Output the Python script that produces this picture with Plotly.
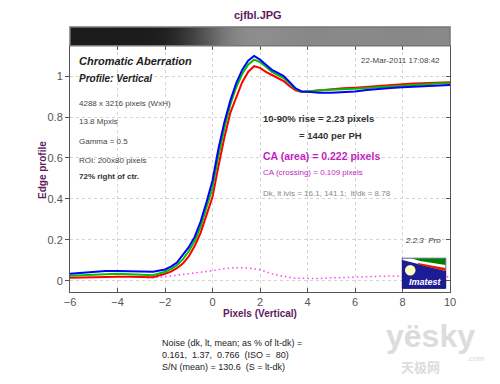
import plotly.graph_objects as go

# ---------------- data ----------------
x_px = [-6, -5.5, -5, -4.5, -4, -3.5, -3, -2.5, -2, -1.75, -1.5, -1.25, -1.0, -0.75, -0.5, -0.25,
        0, 0.25, 0.5, 0.75, 1.0, 1.25, 1.5, 1.75, 2.0, 2.25, 2.5, 2.75, 3.0, 3.25, 3.5, 3.75,
        4.0, 4.5, 5, 5.5, 6, 6.5, 7, 7.5, 8, 8.5, 9, 9.5, 10]
blue = [0.035, 0.040, 0.045, 0.048, 0.049, 0.047, 0.046, 0.045, 0.056, 0.070, 0.090, 0.125, 0.165, 0.215, 0.290, 0.385,
        0.490, 0.645, 0.775, 0.880, 0.965, 1.030, 1.075, 1.098, 1.080, 1.055, 1.030, 1.015, 1.000, 0.970, 0.940, 0.925,
        0.922, 0.918, 0.918, 0.920, 0.925, 0.932, 0.938, 0.942, 0.945, 0.948, 0.950, 0.953, 0.956]
green = [0.025, 0.028, 0.032, 0.034, 0.035, 0.033, 0.030, 0.028, 0.045, 0.058, 0.077, 0.105, 0.145, 0.195, 0.265, 0.355,
         0.455, 0.610, 0.745, 0.860, 0.945, 1.010, 1.055, 1.080, 1.068, 1.045, 1.020, 1.005, 0.990, 0.963, 0.935, 0.925,
         0.925, 0.930, 0.932, 0.935, 0.938, 0.942, 0.946, 0.950, 0.953, 0.956, 0.960, 0.963, 0.965]
red = [0.015, 0.017, 0.018, 0.020, 0.020, 0.020, 0.020, 0.018, 0.035, 0.045, 0.062, 0.085, 0.120, 0.170, 0.235, 0.320,
       0.410, 0.560, 0.700, 0.820, 0.900, 0.970, 1.020, 1.048, 1.040, 1.020, 1.005, 0.990, 0.975, 0.950, 0.930, 0.922,
       0.925, 0.930, 0.935, 0.940, 0.943, 0.948, 0.953, 0.957, 0.960, 0.963, 0.966, 0.968, 0.970]

ca_x = [-2.75, -2.5, -2, -1.5, -1, -0.5, 0, 0.5, 1.0, 1.5, 2.0, 2.5, 3.0, 3.5, 4.0, 4.5, 5, 5.5, 6, 6.5,
        7, 7.5, 8, 8.5, 9, 9.5, 10]
ca_diff = [0.015, 0.016, 0.020, 0.028, 0.035, 0.042, 0.050, 0.060, 0.065, 0.063, 0.055, 0.035, 0.022, 0.013,
           0.011, 0.012, 0.015, 0.017, 0.018, 0.022, 0.025, 0.024, 0.022, 0.022, 0.022, 0.020, 0.020]

bar_x = [-6, -5, -4, -3, -2.5, -2, -1.5, -1, -0.5, 0, 0.5, 1, 1.5, 2, 3, 4, 6, 8, 10]
bar_level = [27, 28, 27, 27, 29, 33, 45, 60, 80, 100, 120, 133, 140, 142, 138, 136, 137, 136, 137]

x_ticks = [-6, -4, -2, 0, 2, 4, 6, 8, 10]
y_ticks = [0, 0.2, 0.4, 0.6, 0.8, 1]
y_ticklabels = ["0", "0.2", "0.4", "0.6", "0.8", "1"]

# ---------------- layout helpers ----------------
OFF = 8  # page body margin
W, H = 500 - OFF, 384 - OFF
PL, PR, PT, PB = 70, 450, 27, 292  # plot box in reference pixels
ML, MT = PL - OFF, PT - OFF
MR = W - (PR - OFF)
MB = H - (PB - OFF)
PW, PH = PR - PL, PB - PT


def px(x, y):
    return (x - PL) / PW, (PB - y) / PH


bar_bottom = (PB - 45.7) / PH
FONT = "Liberation Sans, Arial, sans-serif"
PURPLE = "#5e1a5e"
MAG = "#c21fc2"

fig = go.Figure()

# gradient bar (edge image)
fig.add_trace(go.Heatmap(
    x=bar_x, y=[0, 1], z=[bar_level, bar_level], xaxis="x", yaxis="y2",
    colorscale=[[0, "rgb(0,0,0)"], [1, "rgb(255,255,255)"]], zmin=0, zmax=255,
    zsmooth="best", showscale=False, hoverinfo="skip"))

fig.add_trace(go.Scatter(x=ca_x, y=ca_diff, mode="lines",
                         line=dict(color="#ff40ff", width=1.5, dash="1.5px,3px"), showlegend=False))
fig.add_trace(go.Scatter(x=x_px, y=red, mode="lines", line=dict(color="#ff0000", width=2), showlegend=False))
fig.add_trace(go.Scatter(x=x_px, y=green, mode="lines", line=dict(color="#00c000", width=2), showlegend=False))
fig.add_trace(go.Scatter(x=x_px, y=blue, mode="lines", line=dict(color="#0000ff", width=2), showlegend=False))

axis_font = dict(family=FONT, size=11, color="#555555")
fig.update_layout(
    width=W, height=H, margin=dict(l=ML, r=MR, t=MT, b=MB),
    paper_bgcolor="white", plot_bgcolor="white", showlegend=False,
    xaxis=dict(range=[-6, 10], tickvals=x_ticks, ticks="inside", ticklen=4, tickcolor="#555",
               showline=True, linecolor="#555", linewidth=1, mirror="ticks",
               showgrid=True, gridcolor="#d4d4d4", griddash="dot", zeroline=False,
               tickfont=axis_font, anchor="y"),
    yaxis=dict(domain=[0, bar_bottom], range=[-0.054, 1.148], tickvals=y_ticks, ticktext=y_ticklabels,
               ticks="outside", ticklen=4, tickcolor="#555", showline=True, linecolor="#555", linewidth=1,
               showgrid=True, gridcolor="#d4d4d4", griddash="dot", zeroline=False, tickfont=axis_font),
    yaxis3=dict(overlaying="y", side="right", range=[-0.054, 1.148], tickvals=y_ticks, showticklabels=False,
                ticks="inside", ticklen=4, tickcolor="#555", showline=True, linecolor="#555",
                showgrid=False, zeroline=False, anchor="x"),
    yaxis2=dict(domain=[bar_bottom, 1], range=[0, 1], showticklabels=False, showgrid=False,
                zeroline=False, ticks="", fixedrange=True),
)
fig.add_trace(go.Scatter(x=[None], y=[None], yaxis="y3", showlegend=False))

fig.add_shape(type="rect", xref="paper", yref="paper", x0=0, x1=1, y0=bar_bottom, y1=1,
              line=dict(color="#777", width=1.5))

anns = []


def text(t, x, y, size=8, color="#444", bold=False, italic=False, xanchor="left", angle=0, family=FONT):
    s = t
    if bold:
        s = "<b>" + s + "</b>"
    if italic:
        s = "<i>" + s + "</i>"
    ax, ay = px(x, y)
    anns.append(dict(text=s, x=ax, y=ay, xref="paper", yref="paper", showarrow=False,
                     xanchor=xanchor, yanchor="middle", textangle=angle,
                     font=dict(family=family, size=size, color=color)))


text("cjfbl.JPG", 258, 15.5, size=11, color=PURPLE, bold=True, xanchor="center")
text("Chromatic Aberration", 77, 61, size=11, color="#222", bold=True, italic=True)
text("Profile: Vertical", 77, 79, size=10, color="#222", bold=True, italic=True)
text("4288 x 3216 pixels (WxH)", 77, 103.5, size=8)
text("13.8 Mpxls", 77, 121.7, size=8)
text("Gamma = 0.5", 77, 141, size=8)
text("ROI: 200x80 pixels", 77, 160, size=8)
text("72% right of ctr.", 77, 176.7, size=8, color="#333", bold=True)
text("22-Mar-2011 17:08:42", 442, 61, size=8, xanchor="right")
text("10-90% rise = 2.23 pixels", 260.5, 118.3, size=9.5, color="#333", bold=True)
text("= 1440 per PH", 296.7, 135, size=9.5, color="#333", bold=True)
text("CA (area) = 0.222 pixels", 260.5, 156, size=10.5, color=MAG, bold=True)
text("CA (crossing) = 0.109 pixels", 260.5, 172.7, size=8, color=MAG)
text("Dk, lt lvls = 16.1, 141.1;  lt/dk = 8.78", 260.5, 193.3, size=8, color="#888")
text("2.2.3  <i>Pro</i>", 443, 240, size=8, color="#333", italic=True, xanchor="right")
text("Pixels (Vertical)", 260, 313, size=10, color=PURPLE, bold=True, xanchor="center")
text("Edge profile", 42, 170, size=10, color=PURPLE, bold=True, xanchor="center", angle=-90)
text("Noise (dk, lt, mean; as % of lt-dk) =", 160, 343.3, size=9, color="#222")
text("0.161,  1.37,  0.766  (ISO =  80)", 160, 354.8, size=9, color="#222")
text("S/N (mean) = 130.6  (S = lt-dk)", 160, 366.7, size=9, color="#222")
# watermark
text("yësky", 430, 336, size=32, color="#dcdcdc", bold=True, xanchor="center")
text("天极网", 420, 366, size=13, color="#dcdcdc", bold=True, xanchor="center", family="Noto Sans CJK SC")
text(".com", 476, 358, size=8, color="#d6d6d6", xanchor="center")

# Imatest logo (decoration)
lx0, ly0 = px(402.3, 288.3)
lx1, ly1 = px(445.7, 258.3)
fig.add_shape(type="rect", xref="paper", yref="paper", x0=lx0, x1=lx1, y0=ly0, y1=ly1,
              fillcolor="#1c1c96", line=dict(color="#10106a", width=1))


def path(points):
    s = ""
    for i, (a, b) in enumerate(points):
        u, v = px(a, b)
        s += ("M" if i == 0 else "L") + f"{u:.4f},{v:.4f} "
    return s + "Z"


fig.add_shape(type="path", xref="paper", yref="paper",
              path=path([(402.5, 258.5), (445.5, 258.5), (445.5, 271), (402.5, 260)]),
              fillcolor="white", line=dict(width=0))
fig.add_shape(type="path", xref="paper", yref="paper",
              path=path([(412, 258.5), (445.5, 258.5), (445.5, 265), (420, 261)]),
              fillcolor="#008000", line=dict(width=0))
fig.add_shape(type="path", xref="paper", yref="paper",
              path=path([(418, 263), (445.5, 268), (445.5, 271), (418, 264.5)]),
              fillcolor="#dd2000", line=dict(width=0))
cx0, cy0 = px(405, 275.5)
cx1, cy1 = px(415.5, 265)
fig.add_shape(type="circle", xref="paper", yref="paper", x0=cx0, x1=cx1, y0=cy0, y1=cy1,
              fillcolor="#ffffc0", line=dict(width=0))
text("Imatest", 425, 282, size=9, color="white", bold=True, italic=True, xanchor="center")

fig.update_layout(annotations=anns)
fig.write_html("out.html")
